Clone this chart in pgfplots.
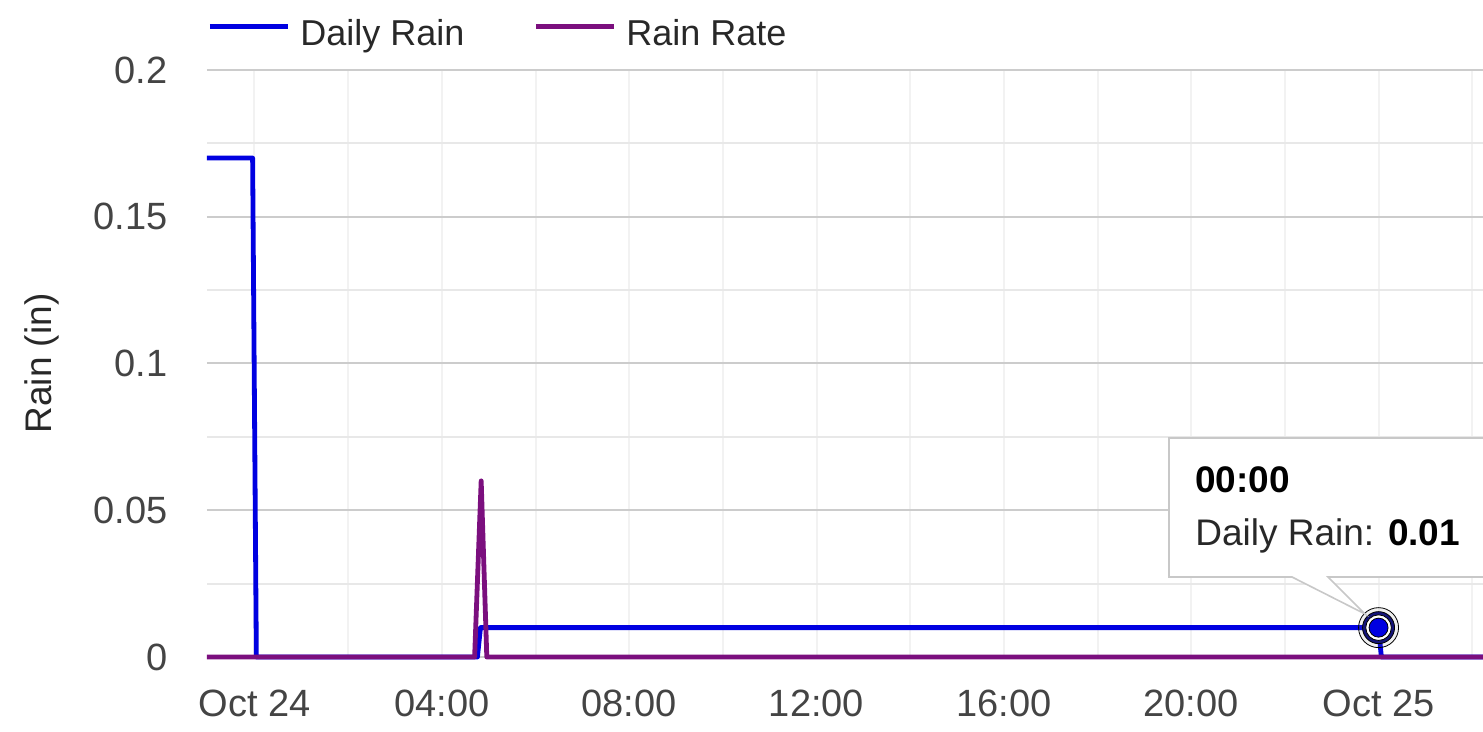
\documentclass[border=0pt]{standalone}
\usepackage{fontspec}
\setmainfont{Liberation Sans}
\usepackage{pgfplots}
\usepackage{pgfplotstable}
\pgfplotsset{compat=1.18}
\definecolor{rainblue}{RGB}{0,0,225}
\definecolor{rainpurple}{RGB}{123,15,126}
\definecolor{ticktext}{RGB}{68,68,68}
\definecolor{labeltext}{RGB}{40,40,40}
\definecolor{majgrid}{RGB}{204,204,204}
\definecolor{mingrid}{RGB}{232,232,232}
\definecolor{vgrid}{RGB}{242,242,242}
\definecolor{ringblue}{RGB}{20,20,120}
\definecolor{tipborder}{RGB}{200,200,200}

\pgfplotstableread{
x y
-1.014 0.17
-0.04 0.17
0.04 0
4.76 0
4.825 0.01
24 0.01
24.06 0
26.23 0
}\dailyrain

\pgfplotstableread{
x y
-1.014 0
4.70 0
4.84 0.06
4.96 0
26.23 0
}\rainrate

\begin{document}
\begin{tikzpicture}
\path[use as bounding box] (0,0) rectangle (741.5pt,366pt);
\begin{axis}[
  at={(103.5pt,37.5pt)}, anchor=south west,
  scale only axis, width=638pt, height=293.5pt,
  xmin=-1.014, xmax=26.23, ymin=0, ymax=0.2,
  clip=false,
  axis line style={draw=none},
  xtick={0,4,8,12,16,20,24},
  xticklabels={Oct 24,04:00,08:00,12:00,16:00,20:00,Oct 25},
  minor xtick={2,6,10,14,18,22,26},
  ytick={0,0.05,0.1,0.15,0.2},
  yticklabels={0,0.05,0.1,0.15,0.2},
  minor ytick={0.025,0.075,0.125,0.175},
  grid=both,
  major x grid style={vgrid, line width=1pt},
  minor x grid style={vgrid, line width=1pt},
  major y grid style={majgrid, line width=1pt},
  minor y grid style={mingrid, line width=1pt},
  major tick length=0pt, minor tick length=0pt,
  /pgf/number format/assume math mode=true,
  tick label style={font=\fontsize{19}{22}\selectfont, text=ticktext},
  xticklabel style={anchor=north, inner sep=0pt, yshift=-16.5pt},
  yticklabel style={anchor=east, inner sep=0pt, xshift=-19.5pt},
  ylabel={Rain (in)},
  ylabel style={at={(axis description cs:-0.1215,0.5)}, anchor=base, inner sep=0pt,
    font=\fontsize{18.5}{22}\selectfont, text=labeltext},
  legend style={at={(0,1)}, anchor=south west, yshift=10.5pt, draw=none, fill=none,
    inner sep=0pt, font=\fontsize{18}{22}\selectfont, text=labeltext,
    /tikz/every odd column/.append style={column sep=5pt},
    /tikz/every even column/.append style={column sep=34.5pt},
    nodes={inner sep=0pt}},
  legend columns=-1,
  legend cell align=left,
  legend image code/.code={\draw[#1, line width=2.5pt] (0pt,4pt) -- (39pt,4pt);},
]
\addplot[rainblue, line width=2.4pt, line join=round] table[x=x,y=y] {\dailyrain};
\addlegendentry{Daily Rain}
\addplot[rainpurple, line width=2.4pt, line join=round] table[x=x,y=y] {\rainrate};
\addlegendentry{Rain Rate}
\addplot[forget plot, only marks, mark=*, mark size=10pt,
  mark options={draw=none, fill=gray, fill opacity=0.12}] coordinates {(24,0.01)};
\addplot[forget plot, only marks, mark=*, mark size=8pt,
  mark options={draw=none, fill=ringblue}] coordinates {(24,0.01)};
\addplot[forget plot, only marks, mark=*, mark size=6.4pt,
  mark options={draw=none, fill=white}] coordinates {(24,0.01)};
\addplot[forget plot, only marks, mark=*, mark size=4.75pt,
  mark options={draw=none, fill=rainblue}] coordinates {(24,0.01)};
\end{axis}
% tooltip annotation
\filldraw[fill=white, draw=tipborder, line width=0.8pt]
  (584.5pt,147pt) -- (750pt,147pt) -- (750pt,77.5pt) -- (664pt,77.5pt)
  -- (682.5pt,59pt) -- (646pt,77.5pt) -- (584.5pt,77.5pt) -- cycle;
\node[anchor=base west, inner sep=0pt, font=\fontsize{18.5}{22}\selectfont\bfseries, text=black]
  at (597.5pt,119.5pt) {00:00};
\node[anchor=base west, inner sep=0pt, font=\fontsize{18.5}{22}\selectfont, text=labeltext]
  at (597.5pt,93pt) {Daily Rain: \textbf{\color{black}0.01}};
\end{tikzpicture}
\end{document}
